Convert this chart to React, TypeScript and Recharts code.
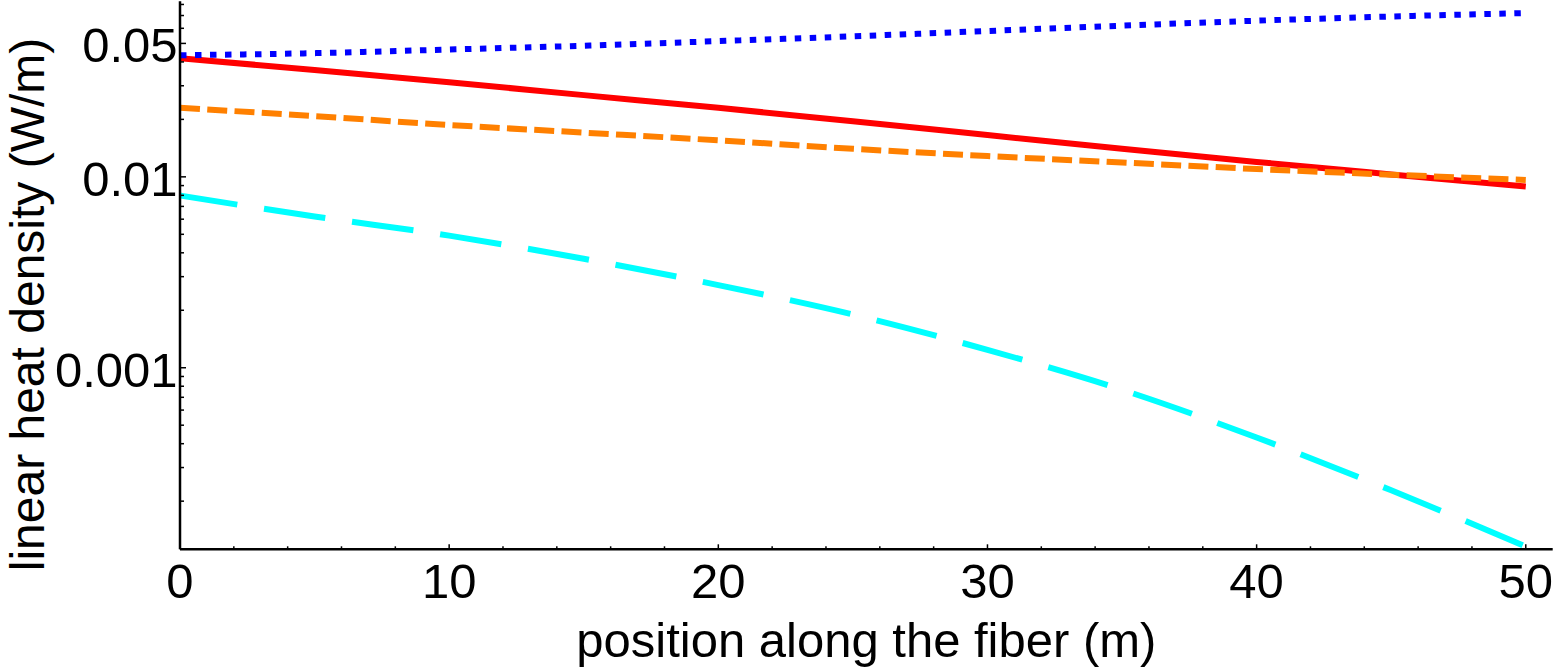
import React from "react";
import { LineChart, Line, XAxis, YAxis } from "recharts";

// positions along the fiber (m)
const positions = [0, 5, 10, 15, 20, 25, 30, 35, 40, 45, 50];

// linear heat density (W/m) for each curve
const redSolid = [0.0418, 0.0363, 0.0313, 0.0268, 0.023, 0.01954, 0.01656, 0.01403, 0.01197, 0.0103, 0.00889];
const orangeDashed = [0.023, 0.0208, 0.0187, 0.01705, 0.01553, 0.01403, 0.01285, 0.01189, 0.01099, 0.01026, 0.00964];
const blueDotted = [0.04335, 0.04446, 0.04645, 0.04864, 0.0514, 0.05445, 0.05808, 0.06194, 0.06577, 0.06918, 0.07211];
const cyanLongDashed = [0.00798, 0.0062, 0.00492, 0.00372, 0.00271, 0.0019, 0.00124, 0.000766, 0.000431, 0.000228, 0.0001156];

// axis ticks
const xTicks = [0, 2, 4, 6, 8, 10, 12, 14, 16, 18, 20, 22, 24, 26, 28, 30, 32, 34, 36, 38, 40, 42, 44, 46, 48, 50];
const xLabelTicks = [0, 10, 20, 30, 40, 50];
const yTicks = [
  0.0002, 0.0003, 0.0004, 0.0005, 0.0006, 0.0007, 0.0008, 0.0009,
  0.001, 0.002, 0.003, 0.004, 0.005, 0.006, 0.007, 0.008, 0.009,
  0.01, 0.02, 0.03, 0.04, 0.05, 0.06, 0.07, 0.08,
];
const yMajorTicks = [0.001, 0.01, 0.05];
const yTickLabels: Record<string, string> = { "0.001": "0.001", "0.01": "0.01", "0.05": "0.05" };

const xDomain = [0, 51];
const yDomain = [0.0001119, 0.0832];

const data = positions.map((x, i) => ({
  x,
  red: redSolid[i],
  orange: orangeDashed[i],
  blue: blueDotted[i],
  cyan: cyanLongDashed[i],
}));

const FONT = "'Liberation Sans', Arial, sans-serif";

const XTick = (props: any) => {
  const { x, y, payload } = props;
  const v = payload.value;
  const major = xLabelTicks.includes(v);
  return (
    <g>
      <line x1={x} x2={x} y1={y} y2={y - (major ? 5 : 3)} stroke="#000" strokeWidth={1.5} />
      {major && (
        <text x={x} y={y + 49} textAnchor="middle" fontSize={49} fontFamily={FONT} fill="#000">
          {String(v)}
        </text>
      )}
    </g>
  );
};

const YTick = (props: any) => {
  const { x, y, payload } = props;
  const v = payload.value;
  const major = yMajorTicks.includes(v);
  const label = yTickLabels[String(v)];
  return (
    <g>
      <line x1={x} x2={x + (major ? 6 : 4)} y1={y} y2={y} stroke="#000" strokeWidth={1.5} />
      {label && (
        <text x={x - 2.5} y={y + 2} textAnchor="end" dominantBaseline="central" fontSize={49} fontFamily={FONT} fill="#000">
          {label}
        </text>
      )}
    </g>
  );
};

const XLabel = (props: any) => {
  const vb = props.viewBox || { x: 180, y: 549, width: 1373, height: 60 };
  const cx = vb.x + vb.width / 2;
  return (
    <text x={cx} y={vb.y + 107.5} textAnchor="middle" fontSize={49} fontFamily={FONT} fill="#000">
      position along the fiber (m)
    </text>
  );
};

const YLabel = () => {
  const cx = 44;
  const cy = 304.5;
  return (
    <text x={cx} y={cy} transform={`rotate(-90, ${cx}, ${cy})`} textAnchor="middle" fontSize={48} fontFamily={FONT} fill="#000">
      linear heat density (W/m)
    </text>
  );
};

export default function App() {
  return (
    <div style={{ position: "absolute", left: 0, top: 0, width: 1554, height: 668, background: "#fff" }}>
      <LineChart
        width={1554}
        height={668}
        data={data}
        margin={{ top: 1.2, right: 1.3, left: 80, bottom: 58.7 }}
      >
        <XAxis
          dataKey="x"
          type="number"
          domain={xDomain}
          ticks={xTicks}
          interval={0}
          allowDataOverflow
          height={60}
          tickSize={0}
          tickMargin={0}
          tickLine={false}
          tick={<XTick />}
          axisLine={{ stroke: "#000", strokeWidth: 2.5 }}
          label={<XLabel />}
        />
        <XAxis
          xAxisId="top"
          orientation="top"
          type="number"
          domain={xDomain}
          height={0}
          tick={false}
          tickLine={false}
          axisLine={{ stroke: "#000", strokeWidth: 2.5 }}
        />
        <YAxis
          type="number"
          scale="log"
          domain={yDomain}
          ticks={yTicks}
          interval={0}
          allowDataOverflow
          width={100}
          tickSize={0}
          tickMargin={0}
          tickLine={false}
          tick={<YTick />}
          axisLine={{ stroke: "#000", strokeWidth: 2.5 }}
          label={<YLabel />}
        />
        <YAxis
          yAxisId="right"
          orientation="right"
          type="number"
          scale="log"
          domain={yDomain}
          width={0}
          tick={false}
          tickLine={false}
          axisLine={{ stroke: "#000", strokeWidth: 2.5 }}
        />
        <Line
          dataKey="red"
          type="monotone"
          stroke="#FF0000"
          strokeWidth={6}
          dot={false}
          activeDot={false}
          isAnimationActive={false}
        />
        <Line
          dataKey="orange"
          type="monotone"
          stroke="#FF8000"
          strokeWidth={6}
          strokeDasharray="20 7.3"
          strokeLinecap="butt"
          dot={false}
          activeDot={false}
          isAnimationActive={false}
        />
        <Line
          dataKey="blue"
          type="monotone"
          stroke="#0000FF"
          strokeWidth={6}
          strokeDasharray="6.5 8.5"
          strokeLinecap="butt"
          dot={false}
          activeDot={false}
          isAnimationActive={false}
        />
        <Line
          dataKey="cyan"
          type="monotone"
          stroke="#00FFFF"
          strokeWidth={6}
          strokeDasharray="62 27"
          strokeDashoffset={4}
          strokeLinecap="butt"
          dot={false}
          activeDot={false}
          isAnimationActive={false}
        />
      </LineChart>
    </div>
  );
}
